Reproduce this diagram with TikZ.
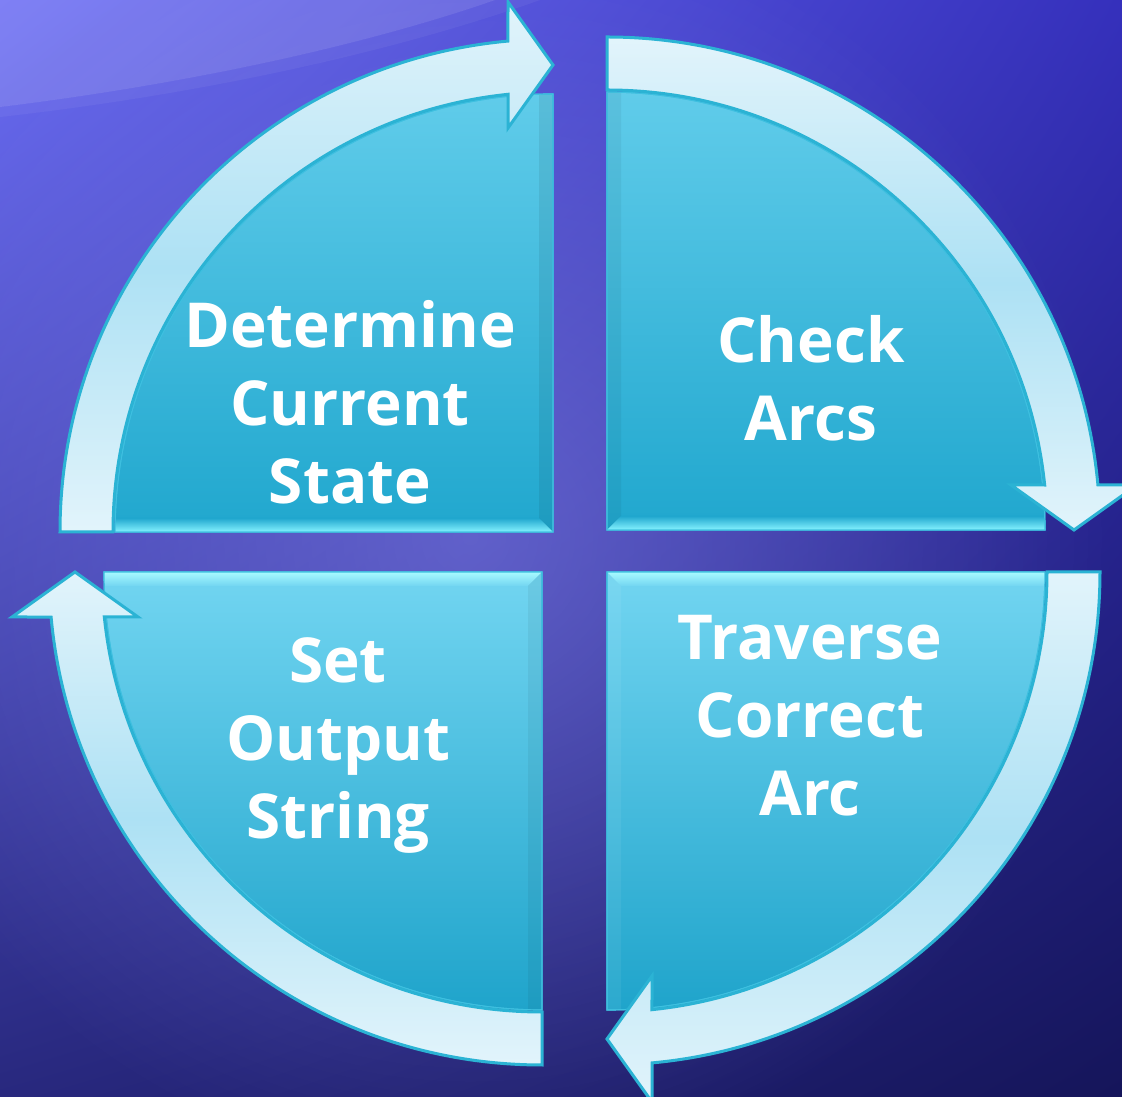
\documentclass[tikz,border=0pt]{standalone}
\usepackage{fontspec}
\setmainfont{Open Sans}
\usetikzlibrary{calc,fadings,shadings}

% palette
\definecolor{bgUL}{HTML}{6A6CF4}
\definecolor{bgUR}{HTML}{3530BC}
\definecolor{bgLL}{HTML}{28287E}
\definecolor{bgLR}{HTML}{15155A}
\definecolor{glowc}{HTML}{8080E8}
\definecolor{quadTop}{HTML}{60CCEA}
\definecolor{quadBot}{HTML}{20A7CE}
\definecolor{quadTopB}{HTML}{72D5F1}
\definecolor{quadBotB}{HTML}{1FA4CB}
\definecolor{quadEdge}{HTML}{3EC0E0}
\definecolor{bevelHi}{HTML}{86F3FF}
\definecolor{bevelHiB}{HTML}{A8FAFF}
\definecolor{arrowLight}{HTML}{E2F4FB}
\definecolor{arrowMid}{HTML}{ADE1F4}
\definecolor{arrowEdge}{HTML}{2BB3D4}

\tikzfading[name=glowfade, inner color=transparent!45, outer color=transparent!100]

\tikzset{
  quadfill/.style={draw=quadEdge, line width=1.2pt, top color=quadTop, bottom color=quadBot},
  quadfillB/.style={draw=quadEdge, line width=1.2pt, top color=quadTopB, bottom color=quadBotB},
  dropshade/.style={fill=black, opacity=0.22, shift={(4,-5)}},
  arrowbody/.style={draw=arrowEdge, line width=3pt, line join=miter,
    top color=arrowLight, bottom color=arrowLight, middle color=arrowMid},
  label/.style={text=white, align=center, inner sep=0pt,
    font=\fontsize{62}{78}\selectfont\bfseries},
}

% quarter disc: #1 corner, #2 angle of its first straight edge, #3 path style
\newcommand{\quadrant}[3]{%
  \path[#3] (#1) -- ($(#1)+(#2:438)$)
    arc[start angle=#2, end angle=#2-90, radius=438] -- cycle;}

% curved band arrow: #1 centre, #2 angle of the tip, #3 path style
\newcommand{\cyclearrow}[3]{%
  \path[#3] ($(#1)+(#2+90:493)$)
    arc[start angle=#2+90, end angle=#2+5.24, radius=493]
    -- ($(#1)+(#2:530)+(#2+90:45)$)
    -- ($(#1)+(#2:467)$)
    -- ($(#1)+(#2:404)+(#2+90:45)$)
    -- ($(#1)+(#2+5.87:440)$)
    arc[start angle=#2+5.87, end angle=#2+90, radius=440] -- cycle;}

\begin{document}
\begin{tikzpicture}[x=1pt,y=1pt]
\useasboundingbox (0,0) rectangle (1122,1097);

% background
\shade[upper left=bgUL, upper right=bgUR, lower left=bgLL, lower right=bgLR]
  (0,0) rectangle (1122,1097);
\fill[glowc, path fading=glowfade] (470,560) circle (640);
\fill[white, opacity=0.14] (0,1097) -- (0,990)
  .. controls (180,1012) and (360,1050) .. (495,1097) -- cycle;
\fill[white, opacity=0.05] (0,990)
  .. controls (180,1012) and (360,1050) .. (495,1097) -- (540,1097)
  .. controls (380,1040) and (180,1000) .. (0,980) -- cycle;

% corners of the four quarters
\coordinate (cTL) at (553,565);
\coordinate (cTR) at (607,567);
\coordinate (cBR) at (607,525);
\coordinate (cBL) at (542,525);

% shadows of the quarters
\quadrant{cTL}{180}{dropshade}
\quadrant{cTR}{90}{dropshade}
\quadrant{cBR}{0}{dropshade}
\quadrant{cBL}{270}{dropshade}

% top-left quarter
\quadrant{cTL}{180}{quadfill}
\begin{scope}
  \quadrant{cTL}{180}{clip}
  \shade[top color=quadBot, bottom color=bevelHi] (100,565) -- (553,565) -- (539,579) -- (100,579) -- cycle;
  \fill[black, opacity=0.07] (553,565) -- (553,1010) -- (539,1010) -- (539,579) -- cycle;
\end{scope}
\quadrant{cTL}{180}{draw=quadEdge, line width=1.2pt}

% top-right quarter
\quadrant{cTR}{90}{quadfill}
\begin{scope}
  \quadrant{cTR}{90}{clip}
  \shade[top color=quadBot, bottom color=bevelHi] (607,567) -- (1060,567) -- (1060,581) -- (621,581) -- cycle;
  \fill[black, opacity=0.05] (607,567) -- (621,581) -- (621,1010) -- (607,1010) -- cycle;
\end{scope}
\quadrant{cTR}{90}{draw=quadEdge, line width=1.2pt}

% bottom-right quarter
\quadrant{cBR}{0}{quadfillB}
\begin{scope}
  \quadrant{cBR}{0}{clip}
  \shade[top color=bevelHiB, bottom color=quadTopB] (607,525) -- (1060,525) -- (1060,511) -- (621,511) -- cycle;
  \fill[white, opacity=0.06] (607,525) -- (621,511) -- (621,80) -- (607,80) -- cycle;
\end{scope}
\quadrant{cBR}{0}{draw=quadEdge, line width=1.2pt}

% bottom-left quarter
\quadrant{cBL}{270}{quadfillB}
\begin{scope}
  \quadrant{cBL}{270}{clip}
  \shade[top color=bevelHiB, bottom color=quadTopB] (90,525) -- (542,525) -- (528,511) -- (90,511) -- cycle;
  \fill[black, opacity=0.05] (542,525) -- (528,511) -- (528,80) -- (542,80) -- cycle;
\end{scope}
\quadrant{cBL}{270}{draw=quadEdge, line width=1.2pt}

% arrows running round the cycle
\cyclearrow{cTL}{90}{dropshade}
\cyclearrow{cTR}{0}{dropshade}
\cyclearrow{cBR}{-90}{dropshade}
\cyclearrow{cBL}{180}{dropshade}
\cyclearrow{cTL}{90}{arrowbody}
\cyclearrow{cTR}{0}{arrowbody}
\cyclearrow{cBR}{-90}{arrowbody}
\cyclearrow{cBL}{180}{arrowbody}

% step labels
\node[label] (determine) at (350,695) {Determine\\Current\\State};
\node[label] (check) at (811,719) {Check\\Arcs};
\node[label] (traverse) at (810,381) {Traverse\\Correct\\Arc};
\node[label] (setout) at (338,351) {Set\\Output\\String};
\end{tikzpicture}
\end{document}
